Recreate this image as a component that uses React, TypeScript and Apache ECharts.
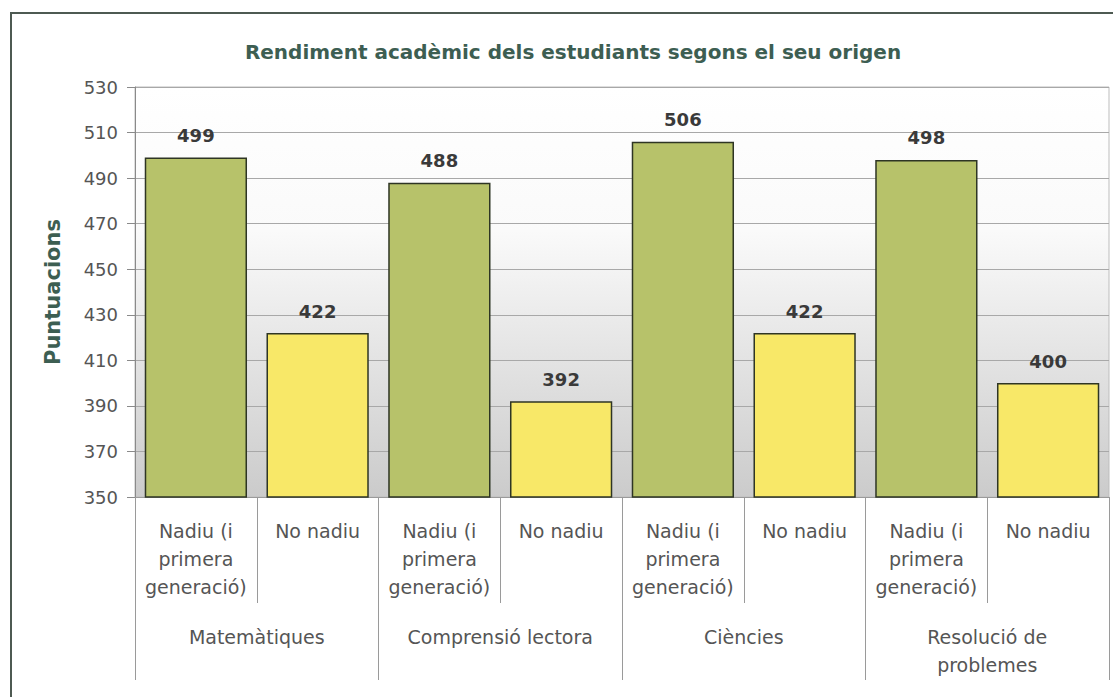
import { useEffect, useRef } from "react";
import * as echarts from "echarts";

const subCategories = [
  "Nadiu (i\nprimera\ngeneració)",
  "No nadiu",
  "Nadiu (i\nprimera\ngeneració)",
  "No nadiu",
  "Nadiu (i\nprimera\ngeneració)",
  "No nadiu",
  "Nadiu (i\nprimera\ngeneració)",
  "No nadiu",
];
const groups = ["Matemàtiques", "Comprensió lectora", "Ciències", "Resolució de\nproblemes"];
const scores = [499, 422, 488, 392, 506, 422, 498, 400];
const origins = ["nadiu", "no", "nadiu", "no", "nadiu", "no", "nadiu", "no"];
const yMin = 350;
const yMax = 530;
const yStep = 20;

const title = "Rendiment acadèmic dels estudiants segons el seu origen";
const yName = "Puntuacions";

const FONT = "DejaVu Sans";
const colorFor: Record<string, string> = { nadiu: "#b7c26a", no: "#f8e868" };

export default function App() {
  const ref = useRef<HTMLDivElement>(null);
  useEffect(() => {
    if (!ref.current) return;
    const chart = echarts.init(ref.current, null, { renderer: "svg" });
    chart.setOption({
      animation: false,
      backgroundColor: "#ffffff",
      title: {
        text: title,
        left: 568,
        textAlign: "center",
        top: 37,
        textStyle: { fontFamily: FONT, fontSize: 20, fontWeight: "bold", color: "#3d5e52" },
      },
      graphic: [
        {
          type: "rect",
          shape: { x: 11, y: 13, width: 1120, height: 720 },
          style: { fill: "none", stroke: "#4e5a52", lineWidth: 2 },
          silent: true,
          z: 100,
        },
      ],
      grid: {
        left: 135,
        right: 4,
        top: 87,
        bottom: 200,
        show: true,
        borderWidth: 1,
        borderColor: "#bdbdbd",
        backgroundColor: new echarts.graphic.LinearGradient(0, 0, 0, 1, [
          { offset: 0, color: "#ffffff" },
          { offset: 0.35, color: "#fafafa" },
          { offset: 1, color: "#cbcbcb" },
        ]),
      },
      xAxis: [
        {
          type: "category",
          position: "bottom",
          data: subCategories,
          axisLine: { show: true, lineStyle: { color: "#9a9a9a", width: 1 } },
          axisTick: { show: true, interval: 0, length: 106, lineStyle: { color: "#9a9a9a", width: 1 } },
          axisLabel: {
            interval: 0,
            margin: 20,
            fontFamily: FONT,
            fontSize: 19,
            lineHeight: 28,
            color: "#555555",
            align: "center",
          },
        },
        {
          type: "category",
          position: "bottom",
          offset: 0,
          data: groups,
          axisLine: { show: false },
          axisTick: { show: true, interval: 0, length: 183, lineStyle: { color: "#9a9a9a", width: 1 } },
          axisLabel: {
            interval: 0,
            margin: 126,
            fontFamily: FONT,
            fontSize: 19,
            lineHeight: 28,
            color: "#555555",
            align: "center",
          },
        },
      ],
      yAxis: {
        type: "value",
        min: yMin,
        max: yMax,
        interval: yStep,
        name: yName,
        nameLocation: "middle",
        nameGap: 72,
        nameTextStyle: { fontFamily: FONT, fontSize: 21, fontWeight: "bold", color: "#3d5e52" },
        axisLine: { show: true, lineStyle: { color: "#8a8a8a", width: 1 } },
        axisTick: { show: true, inside: false, length: 8, lineStyle: { color: "#8a8a8a" } },
        axisLabel: { margin: 17, fontFamily: FONT, fontSize: 18, color: "#555555" },
        splitLine: { show: true, lineStyle: { color: "#a8a8a8", width: 1 } },
      },
      series: [
        {
          type: "bar",
          xAxisIndex: 0,
          barCategoryGap: "16%",
          data: scores.map((v, i) => ({
            value: v,
            itemStyle: { color: colorFor[origins[i]] },
          })),
          itemStyle: { borderColor: "#2e3524", borderWidth: 1.5 },
          label: {
            show: true,
            position: "top",
            distance: 13,
            fontFamily: FONT,
            fontSize: 18,
            fontWeight: "bold",
            color: "#3a3a3a",
          },
        },
      ],
    });
    return () => chart.dispose();
  }, []);
  return (
    <div
      ref={ref}
      style={{ position: "fixed", left: 0, top: 0, width: 1113, height: 697 }}
    />
  );
}
